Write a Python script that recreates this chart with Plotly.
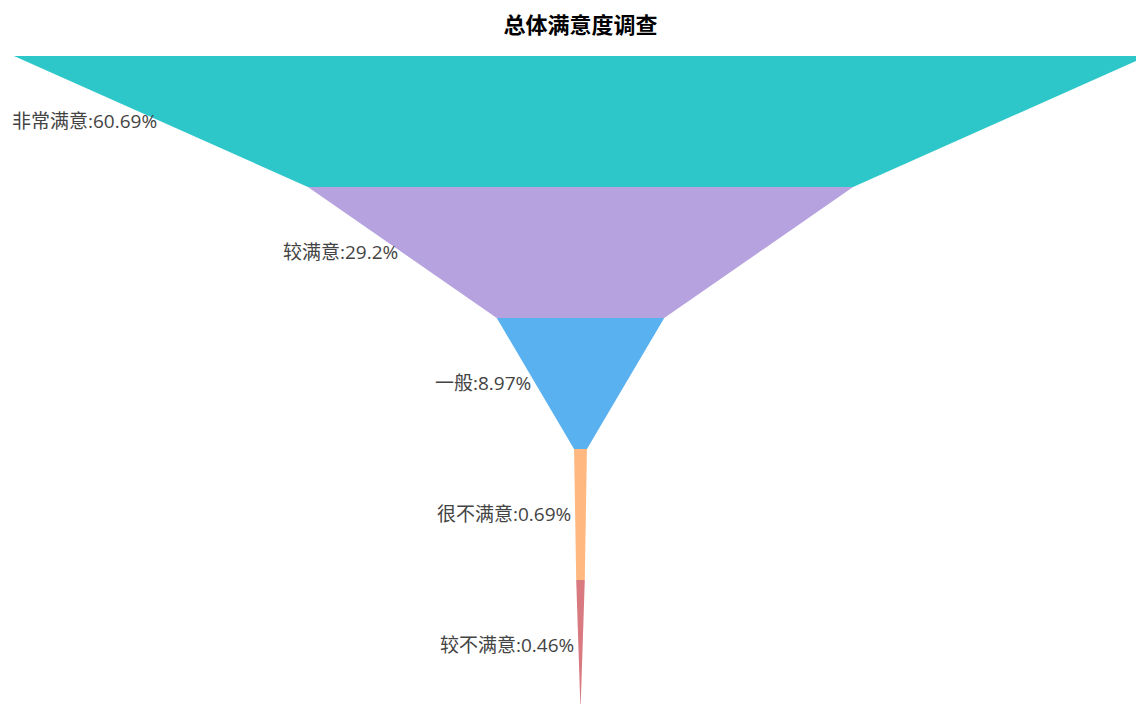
import plotly.graph_objects as go

categories = ["非常满意", "较满意", "一般", "很不满意", "较不满意"]
values = [60.69, 29.2, 8.97, 0.69, 0.46]
colors = ["#2EC7C9", "#B6A2DE", "#5AB1EF", "#FFB980", "#D87A80"]
title_text = "总体满意度调查"

W, H = 1136, 704
center_px = 580.5
px_per_unit = 18.67
top_px = 56
seg_px = 131

x0 = -center_px / px_per_unit
x1 = (W - center_px) / px_per_unit
y_top = top_px / seg_px
y_bot = -(H - top_px) / seg_px

label_font = "Open Sans, Noto Sans CJK SC, sans-serif"

fig = go.Figure()
annotations = []
n = len(values)
for i, (cat, v, c) in enumerate(zip(categories, values, colors)):
    nxt = values[i + 1] if i + 1 < n else 0.0
    yt, yb = -i, -(i + 1)
    xs = [-v / 2, v / 2, nxt / 2, -nxt / 2, -v / 2]
    ys = [yt, yt, yb, yb, yt]
    fig.add_trace(go.Scatter(
        x=xs, y=ys, fill="toself", mode="lines",
        line=dict(width=0, color=c), fillcolor=c,
        name=cat, hoverinfo="name", showlegend=False,
    ))
    mid_x = -(v + nxt) / 4
    annotations.append(dict(
        x=mid_x, y=(yt + yb) / 2, xref="x", yref="y",
        text=f"{cat}:{v}%", showarrow=False,
        xanchor="right", yanchor="middle", xshift=-2, yshift=1,
        font=dict(family=label_font, size=19, color="#444444"),
    ))

fig.update_layout(
    width=W, height=H,
    margin=dict(l=0, r=0, t=0, b=0),
    paper_bgcolor="white", plot_bgcolor="white",
    xaxis=dict(range=[x0, x1], visible=False, fixedrange=True),
    yaxis=dict(range=[y_bot, y_top], visible=False, fixedrange=True),
    annotations=annotations,
    title=dict(
        text=f"<b>{title_text}</b>", x=center_px / W, xanchor="center",
        y=1 - 25 / H, yanchor="middle",
        font=dict(family="Noto Sans CJK SC, sans-serif", size=22, color="#000000"),
    ),
)

fig.write_html(
    "out.html",
    config={"displayModeBar": False},
    post_script="document.body.style.margin='0';document.body.style.overflow='hidden';",
)
